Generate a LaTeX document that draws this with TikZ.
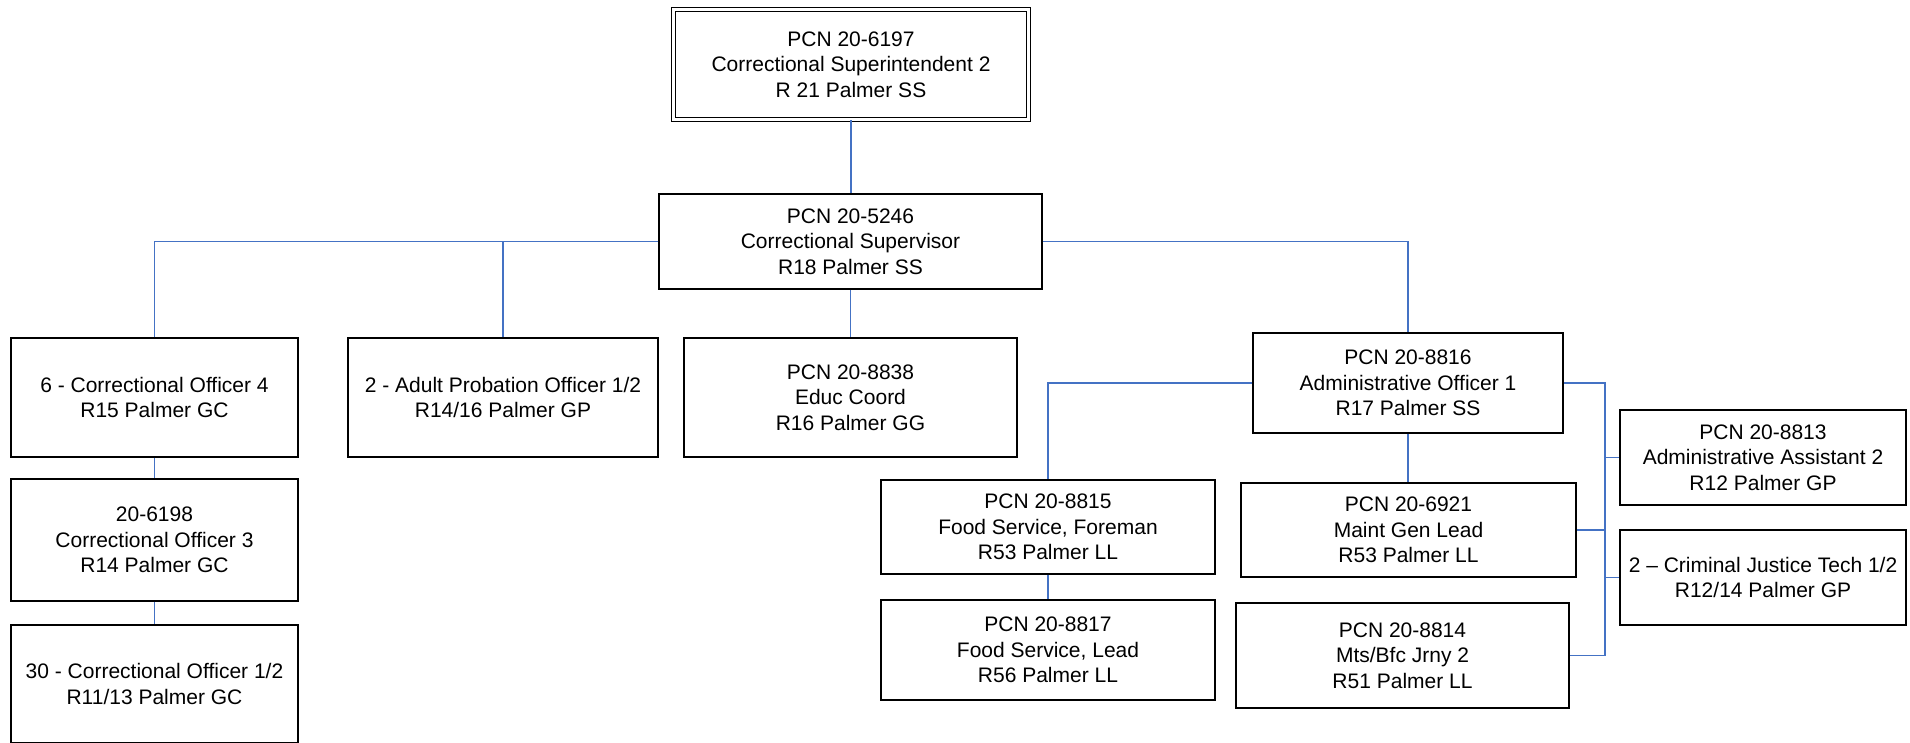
\documentclass[tikz,border=0pt]{standalone}
\usepackage{fontspec}
\setmainfont{Liberation Sans}
\definecolor{linkblue}{HTML}{4472C4}

\begin{document}
\begin{tikzpicture}[
		x=1pt,y=-1pt,
		link/.style = {draw=linkblue, line width=1.3pt},
		post/.style = {draw, line width=1.8pt, align=center, inner sep=0pt,
			font=\fontsize{21}{25.5}\selectfont},
		head/.style = {post, double, double distance=2.5pt, line width=1.4pt}
	]
	\useasboundingbox (0,0) rectangle (1910,742);
	\node (sup2) [head, minimum width=355pt, minimum height=110pt] at (851,64.5) {PCN 20-6197\\Correctional Superintendent 2\\R 21 Palmer SS};
	\node (sup) [post, minimum width=383pt, minimum height=95pt] at (850.5,241.5) {PCN 20-5246\\Correctional Supervisor\\R18 Palmer SS};
	\node (co4) [post, minimum width=287pt, minimum height=119pt] at (154.5,397.5) {6 - Correctional Officer 4\\R15 Palmer GC};
	\node (apo) [post, minimum width=310pt, minimum height=119pt] at (503,397.5) {2 - Adult Probation Officer 1/2\\R14/16 Palmer GP};
	\node (educ) [post, minimum width=333pt, minimum height=119pt] at (850.5,397.5) {PCN 20-8838\\Educ Coord\\R16 Palmer GG};
	\node (co3) [post, minimum width=287pt, minimum height=122pt] at (154.5,540) {20-6198\\Correctional Officer 3\\R14 Palmer GC};
	\node (co1) [post, minimum width=287pt, minimum height=118pt] at (154.5,684) {30 - Correctional Officer 1/2\\R11/13 Palmer GC};
	\node (ao1) [post, minimum width=310pt, minimum height=100pt] at (1408,383) {PCN 20-8816\\Administrative Officer 1\\R17 Palmer SS};
	\node (fsf) [post, minimum width=334pt, minimum height=94pt] at (1048,527) {PCN 20-8815\\Food Service, Foreman\\R53 Palmer LL};
	\node (fsl) [post, minimum width=334pt, minimum height=100pt] at (1048,650) {PCN 20-8817\\Food Service, Lead\\R56 Palmer LL};
	\node (mgl) [post, minimum width=335pt, minimum height=94pt] at (1408.5,530) {PCN 20-6921\\Maint Gen Lead\\R53 Palmer LL};
	\node (mts) [post, minimum width=333pt, minimum height=105pt] at (1402.5,655.5) {PCN 20-8814\\Mts/Bfc Jrny 2\\R51 Palmer LL};
	\node (aa2) [post, minimum width=286pt, minimum height=95pt] at (1763,457.5) {PCN 20-8813\\Administrative Assistant 2\\R12 Palmer GP};
	\node (cjt) [post, minimum width=286pt, minimum height=95pt] at (1763,577.5) {2 – Criminal Justice Tech 1/2\\R12/14 Palmer GP};
	\coordinate (bus) at (1605,383);

	\draw [link] (sup2.south) -- (sup2.south |- sup.north);
	\draw [link] (sup.west) -| (co4.north);
	\draw [link] (sup.west) -| (apo.north);
	\draw [link] (sup.south) -- (educ.north);
	\draw [link] (sup.east) -| (ao1.north);
	\draw [link] (co4.south) -- (co3.north);
	\draw [link] (co3.south) -- (co1.north);
	\draw [link] (ao1.west) -| (fsf.north);
	\draw [link] (fsf.south) -- (fsl.north);
	\draw [link] (ao1.south) -- (ao1.south |- mgl.north);
	\draw [link] (ao1.east) -- (bus) |- (mts.east);
	\draw [link] (mgl.east) -- (mgl.east -| bus);
	\draw [link] (aa2.west) -- (aa2.west -| bus);
	\draw [link] (cjt.west) -- (cjt.west -| bus);
\end{tikzpicture}
\end{document}
